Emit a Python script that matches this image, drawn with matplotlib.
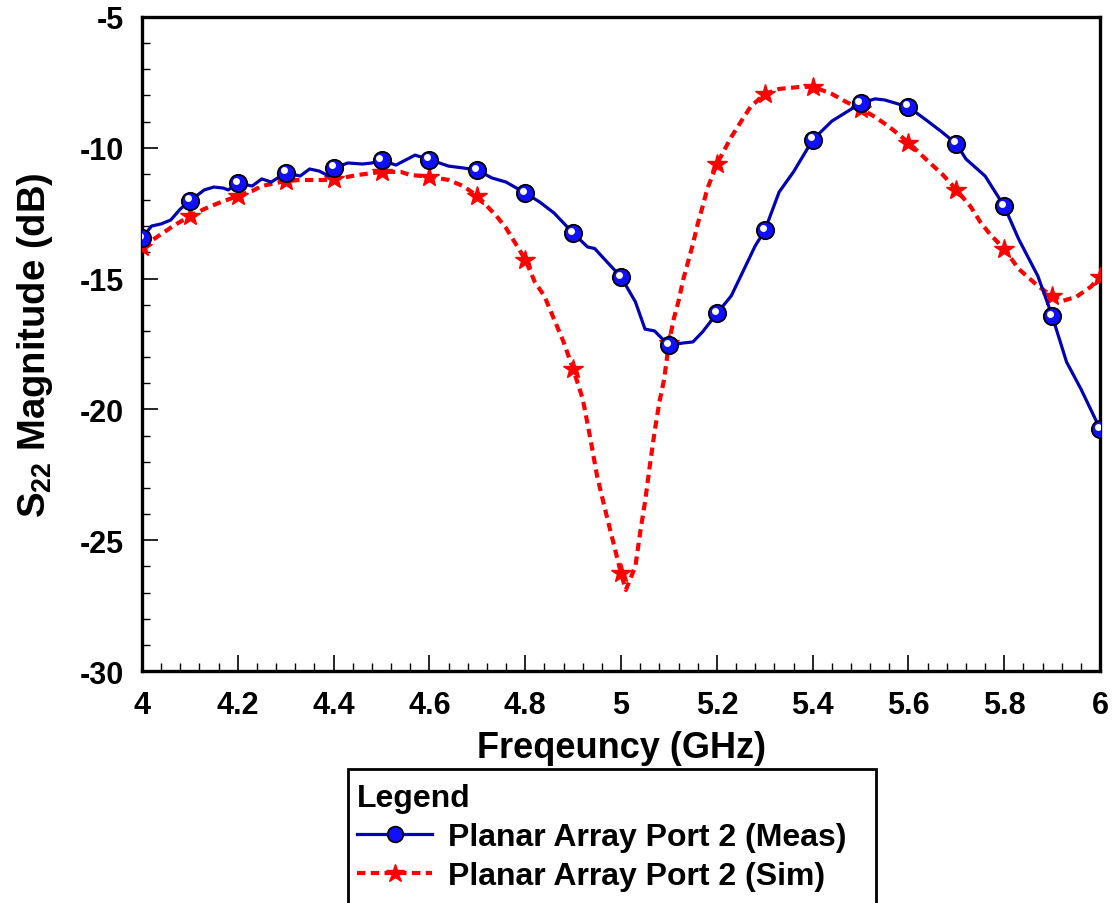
import numpy as np
import matplotlib
matplotlib.use("Agg")
import matplotlib.pyplot as plt
import matplotlib.transforms as mtransforms
from matplotlib.patches import Rectangle

plt.rcParams['font.family'] = ['Liberation Sans', 'DejaVu Sans']
plt.rcParams['font.weight'] = 'bold'
plt.rcParams['axes.unicode_minus'] = False
plt.rcParams['mathtext.fontset'] = 'custom'
plt.rcParams['mathtext.rm'] = 'Liberation Sans:bold'
plt.rcParams['mathtext.it'] = 'Liberation Sans:bold'
plt.rcParams['mathtext.bf'] = 'Liberation Sans:bold'

# measured S22 (dB)
meas_freq = [4.00, 4.02, 4.04, 4.06, 4.08, 4.10, 4.13, 4.15, 4.17, 4.18,
             4.20, 4.23, 4.25, 4.27, 4.30, 4.33, 4.35, 4.37, 4.39, 4.40,
             4.43, 4.46, 4.48, 4.50, 4.53, 4.55, 4.57, 4.60, 4.64, 4.67,
             4.70, 4.73, 4.76, 4.80, 4.83, 4.86, 4.90, 4.93, 4.945, 4.96,
             5.00, 5.03, 5.05, 5.07, 5.08, 5.10, 5.13, 5.15, 5.17, 5.20,
             5.23, 5.25, 5.28, 5.30, 5.33, 5.36, 5.40, 5.44, 5.50, 5.53,
             5.55, 5.60, 5.64, 5.67, 5.70, 5.72, 5.76, 5.80, 5.83, 5.87,
             5.90, 5.93, 5.96, 6.00]
meas_s22 = [-13.45, -12.99, -12.91, -12.76, -12.34, -12.03, -11.61, -11.50, -11.54, -11.61,
            -11.35, -11.46, -11.19, -11.31, -10.95, -11.08, -10.81, -10.89, -11.08, -10.77,
            -10.58, -10.62, -10.58, -10.47, -10.66, -10.47, -10.28, -10.45, -10.70, -10.77,
            -10.85, -11.15, -11.31, -11.73, -12.07, -12.49, -13.26, -13.79, -13.85, -14.15,
            -14.94, -15.89, -16.93, -17.00, -17.19, -17.54, -17.46, -17.42, -17.04, -16.33,
            -15.66, -14.90, -13.75, -13.16, -11.69, -10.92, -9.70, -8.98, -8.30, -8.13,
            -8.17, -8.44, -8.98, -9.40, -9.85, -10.43, -11.08, -12.24, -13.49, -14.90,
            -16.43, -18.19, -19.22, -20.75]

# simulated S22 (dB)
sim_freq = [4.00, 4.04, 4.065, 4.10, 4.13, 4.16, 4.20, 4.23, 4.25, 4.30,
            4.33, 4.38, 4.40, 4.45, 4.50, 4.54, 4.56, 4.60, 4.64, 4.67,
            4.70, 4.74, 4.76, 4.80, 4.82, 4.84, 4.88, 4.90, 4.92, 4.935,
            4.95, 4.97, 5.00, 5.01, 5.03, 5.04, 5.05, 5.06, 5.07, 5.08,
            5.09, 5.10, 5.11, 5.12, 5.13, 5.15, 5.16, 5.17, 5.18, 5.20,
            5.23, 5.25, 5.27, 5.30, 5.33, 5.37, 5.40, 5.44, 5.47, 5.50,
            5.53, 5.56, 5.60, 5.64, 5.67, 5.70, 5.73, 5.75, 5.77, 5.80,
            5.83, 5.87, 5.90, 5.92, 5.95, 5.98, 6.00]
sim_s22 = [-13.79, -13.30, -12.99, -12.61, -12.34, -12.11, -11.84, -11.65, -11.46, -11.27,
           -11.23, -11.23, -11.21, -11.04, -10.92, -10.92, -11.04, -11.10, -11.23, -11.46,
           -11.84, -12.61, -13.07, -14.27, -15.13, -15.67, -17.42, -18.46, -19.60, -21.02,
           -22.55, -24.07, -26.27, -26.90, -25.99, -24.69, -23.54, -22.16, -20.86, -19.72,
           -18.84, -17.45, -16.54, -15.86, -15.02, -13.68, -12.91, -12.26, -11.57, -10.62,
           -9.59, -9.01, -8.44, -7.94, -7.75, -7.68, -7.66, -7.94, -8.25, -8.50,
           -8.82, -9.20, -9.80, -10.50, -11.00, -11.60, -12.26, -12.84, -13.30, -13.87,
           -14.63, -15.28, -15.67, -15.86, -15.70, -15.32, -14.94]

x_ticks = [4, 4.2, 4.4, 4.6, 4.8, 5, 5.2, 5.4, 5.6, 5.8, 6]
x_tick_labels = ['4', '4.2', '4.4', '4.6', '4.8', '5', '5.2', '5.4', '5.6', '5.8', '6']
y_ticks = [-30, -25, -20, -15, -10, -5]
labels = ['Planar Array Port 2 (Meas)', 'Planar Array Port 2 (Sim)']

meas_freq = np.array(meas_freq)
sim_freq = np.array(sim_freq)


def every_tenth(freq):
    # markers only at the 0.1 GHz points
    return np.isclose(freq * 10, np.round(freq * 10))


fig = plt.figure(figsize=(11.18, 9.04), dpi=100)
ax = fig.add_axes([0.127, 0.2566, 0.857, 0.7235])

blue = '#0000b4'
red = '#ff0000'

sim_line, = ax.plot(sim_freq, sim_s22, color=red, linewidth=3.0, dashes=(2.0, 1.3),
                    marker='*', markersize=15, markerfacecolor=red, markeredgecolor=red,
                    markevery=every_tenth(sim_freq), zorder=3)
meas_line, = ax.plot(meas_freq, meas_s22, color=blue, linewidth=2.3,
                     marker='o', markersize=12.5, markerfacecolor='#1010ff', markeredgecolor='black',
                     markeredgewidth=1.3, markevery=every_tenth(meas_freq), zorder=4)

# small white highlight on the circle markers
hl = ax.transData + mtransforms.ScaledTranslation(-1.5 / 72, 1.8 / 72, fig.dpi_scale_trans)
mask = every_tenth(meas_freq)
ax.plot(meas_freq[mask], np.array(meas_s22)[mask], linestyle='none', marker='o',
        markersize=5, markerfacecolor='white', markeredgecolor='none',
        transform=hl, zorder=5)

ax.set_xlim(4, 6)
ax.set_ylim(-30, -5)
ax.set_xticks(x_ticks)
ax.set_xticklabels(x_tick_labels)
ax.set_yticks(y_ticks)
ax.set_xticks(np.arange(4, 6.001, 0.04), minor=True)
ax.set_yticks(np.arange(-30, -4.99, 1), minor=True)

ax.tick_params(which='both', direction='in', top=False, right=False, labelsize=22)
ax.tick_params(which='major', length=11.5, width=1.2)
ax.tick_params(which='minor', length=5.8, width=1.0)
ax.tick_params(axis='x', pad=14)
ax.tick_params(axis='y', pad=13)
for s in ax.spines.values():
    s.set_linewidth(2.4)

ax.set_xlabel('Freqeuncy (GHz)', fontsize=26, fontweight='bold', labelpad=7)
ax.set_ylabel('S$_{22}$ Magnitude (dB)', fontsize=27.5, fontweight='bold', labelpad=18)

# legend box runs off the bottom edge of the figure
fig.patches.append(Rectangle((348 / 1118, -0.05), (876 - 348) / 1118, 0.05 + (904 - 770) / 904,
                             transform=fig.transFigure, fill=False, edgecolor='black',
                             linewidth=2.0))
leg = fig.legend(handles=[meas_line, sim_line], labels=labels,
                 loc='upper left', bbox_to_anchor=(357 / 1118, 1 - 784 / 904),
                 frameon=False, title='Legend', alignment='left',
                 prop={'size': 23, 'weight': 'bold'},
                 title_fontproperties={'size': 23, 'weight': 'bold'},
                 handlelength=2.35, handletextpad=0.5, labelspacing=0.28, borderpad=0.0,
                 borderaxespad=0.0, markerscale=0.9)

fig.savefig('out.png', dpi=100)
